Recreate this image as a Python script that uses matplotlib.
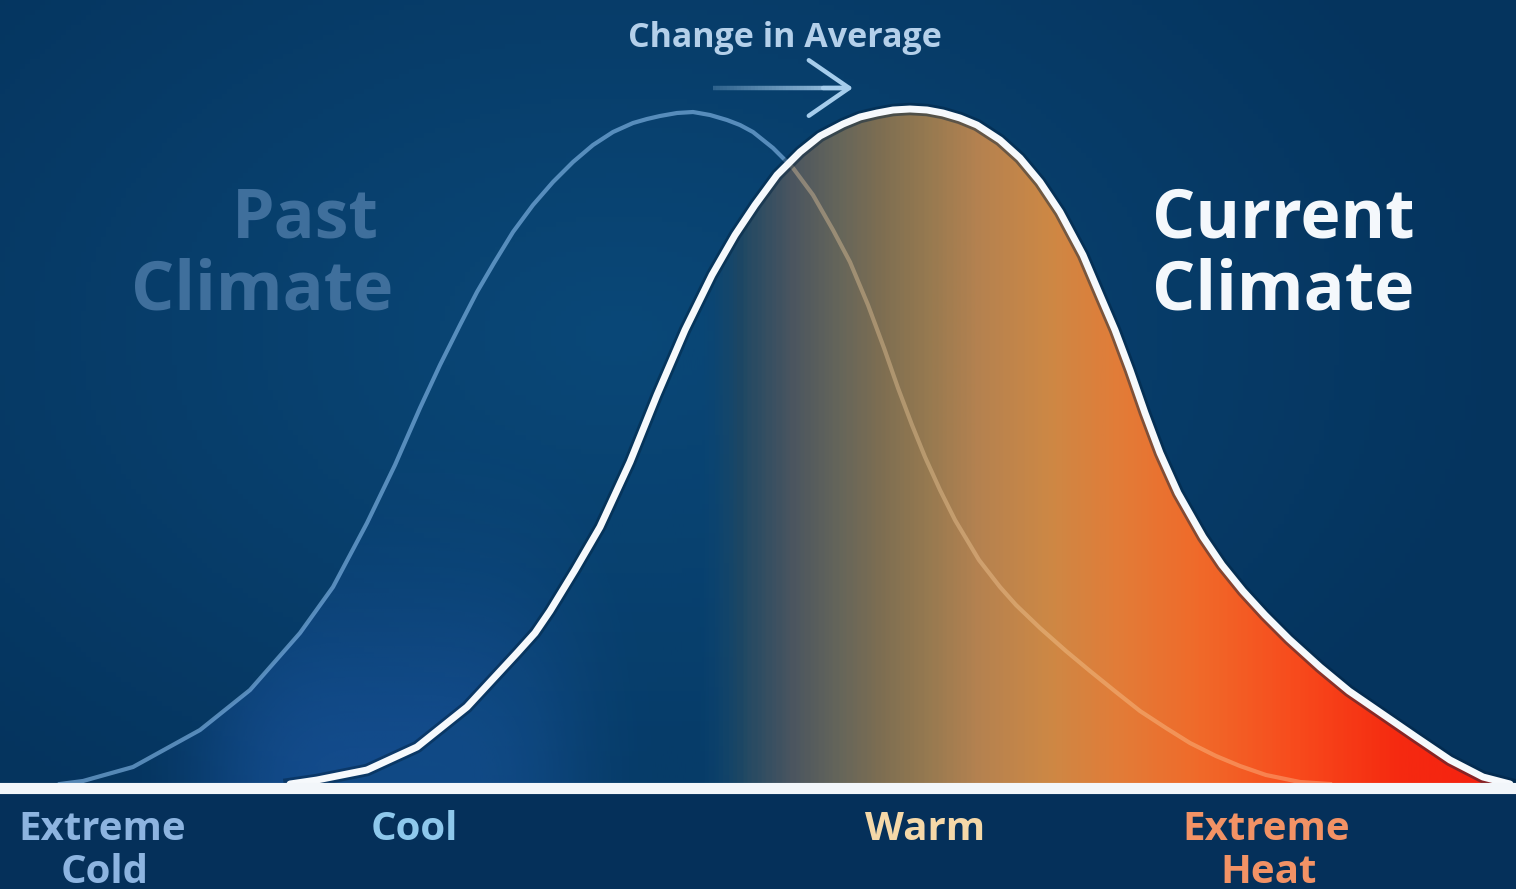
import numpy as np
import matplotlib.pyplot as plt
from matplotlib.colors import LinearSegmentedColormap, to_rgba
from matplotlib.collections import LineCollection
from matplotlib.patches import Polygon

# temperature position (left = cold, right = hot) and relative frequency
past_x = [60, 83, 133, 200, 250, 300, 333, 367, 395, 420, 440, 460, 477, 494, 513, 533, 553,
          573, 593, 613, 633, 647, 660, 677, 693, 710, 727, 740, 753, 773, 793, 813, 833,
          850, 868, 884, 898, 912, 925, 940, 955, 979, 1000, 1016, 1040, 1066, 1090, 1116,
          1140, 1166, 1190, 1216, 1240, 1266, 1300, 1330]
past_h = [1, 4, 18, 55, 95, 152, 198, 262, 320, 377, 420, 460, 493, 522, 553, 580, 603,
          623, 640, 653, 662, 666, 669, 672, 673, 670, 665, 660, 653, 637, 617, 590, 555,
          523, 480, 437, 397, 360, 328, 295, 265, 225, 198, 180, 157, 134, 114, 93,
          74, 57, 42, 29, 19, 10, 3, 1]

current_x = [290, 317, 367, 417, 467, 517, 535, 550, 575, 600, 630, 657, 685, 712, 735, 755,
             777, 800, 820, 843, 860, 877, 893, 910, 927, 943, 960, 977, 1000, 1020, 1040,
             1060, 1083, 1100, 1115, 1130, 1145, 1160, 1178, 1203, 1222, 1243, 1265, 1289,
             1320, 1349, 1416, 1450, 1483, 1510]
current_h = [1, 5, 15, 38, 78, 132, 152, 174, 215, 258, 323, 390, 455, 510, 550, 580,
             610, 633, 649, 661, 668, 672, 675, 676, 675, 672, 667, 660, 645, 627, 603,
             573, 530, 490, 455, 415, 372, 332, 292, 248, 220, 194, 170, 146,
             118, 94, 48, 25, 8, 1]

cat_top = ['Extreme', 'Cool', 'Warm', 'Extreme']
cat_bottom = ['Cold', '', '', 'Heat']
cat_x = [102, 414, 925, 1266]
cat_colors = ['#8db4e0', '#8ec8ec', '#f5d8a8', '#f29265']

# "Change in Average" arrow, from old mean towards new mean
arrow_start, arrow_end, arrow_h = 713, 853, 697

# gradient stops of the current-climate fill (position, colour, alpha)
warm_stops = [(290, '#0a4676', 0.25), (700, '#0a4676', 0.25), (740, '#1e4864', 1.0),
              (790, '#4a5560', 1.0), (840, '#66665a', 1.0), (880, '#7d6e52', 1.0),
              (930, '#977a50', 1.0), (980, '#b58250', 1.0), (1050, '#cd8845', 1.0),
              (1120, '#e27c38', 1.0), (1200, '#f06a2a', 1.0), (1300, '#f84a1c', 1.0),
              (1400, '#f52a10', 1.0), (1510, '#f52010', 1.0)]

W, H = 1516, 889
base = 785  # pixel row of the baseline

fig = plt.figure(figsize=(W / 100, H / 100), dpi=100)
ax = fig.add_axes([0, 0, 1, 1])
fig.patch.set_facecolor('#063a64')

# background: soft radial light behind the curves
gx, gy = np.meshgrid(np.linspace(0, W, 300), np.linspace(base - H, base, 180))
r = np.sqrt(((gx - 620) / 900) ** 2 + ((gy - 450) / 600) ** 2)
t = np.clip(r, 0, 1)[..., None]
c_in = np.array([10, 72, 120]) / 255
c_out = np.array([5, 52, 94]) / 255
bg = c_in * (1 - t) + c_out * t
ax.imshow(bg, extent=[0, W, base - H, base], origin='lower', aspect='auto', zorder=0)
ax.axhspan(base - H, 0, color='#05305a', zorder=0.5, lw=0)

# blue glow under the past curve
past_poly = Polygon(np.column_stack([past_x + [past_x[-1], past_x[0]],
                                     past_h + [0, 0]]), closed=True, fc='none', ec='none')
ax.add_patch(past_poly)
lx, ly = np.meshgrid(np.linspace(60, 800, 300), np.linspace(0, 500, 200))
glow = np.zeros(lx.shape + (4,))
glow[..., :3] = np.array([36, 100, 190]) / 255
glow[..., 3] = 0.45 * np.exp(-((lx - 390) / 190) ** 4) * np.exp(-(ly / 200) ** 2)
gim = ax.imshow(glow, extent=[60, 800, 0, 500], origin='lower', aspect='auto', zorder=1)
gim.set_clip_path(past_poly)

# past climate line (under the fill)
ax.plot(past_x, past_h, color='#8cc0f0', alpha=0.6, lw=3, solid_joinstyle='round', zorder=1.5)

# gradient fill under the current curve
cur_poly = Polygon(np.column_stack([current_x + [current_x[-1], current_x[0]],
                                    current_h + [0, 0]]), closed=True, fc='none', ec='none')
ax.add_patch(cur_poly)
x0, x1 = warm_stops[0][0], warm_stops[-1][0]
warm_cmap = LinearSegmentedColormap.from_list(
    'warm', [((p - x0) / (x1 - x0), to_rgba(c, a)) for p, c, a in warm_stops])
grad = np.linspace(0, 1, 600).reshape(1, -1)
fim = ax.imshow(grad, extent=[x0, x1, 0, 700], origin='lower', aspect='auto',
                cmap=warm_cmap, zorder=2)
fim.set_clip_path(cur_poly)

# past line seen through the warm fill
pl = ax.plot(past_x, past_h, color='#ffd9a8', alpha=0.35, lw=3,
             solid_joinstyle='round', zorder=3)[0]
pl.set_clip_path(cur_poly)

# current climate line
ax.plot(current_x, current_h, color='#02223f', alpha=0.45, lw=9,
        solid_joinstyle='round', zorder=3.5)
ax.plot(current_x, current_h, color='#f6f9fc', lw=5, solid_joinstyle='round',
        solid_capstyle='round', zorder=4)

# baseline
ax.axhline(-3, color='#f2f6fa', lw=8, zorder=5)

font = ['Open Sans', 'DejaVu Sans']

ax.text(305, base - 238, 'Past', ha='center', va='baseline', fontsize=49,
        fontweight='bold', family=font, color='#3f6f9c', zorder=6)
ax.text(262, base - 309, 'Climate', ha='center', va='baseline', fontsize=49,
        fontweight='bold', family=font, color='#3f6f9c', zorder=6)
ax.text(1152, base - 238, 'Current', ha='left', va='baseline', fontsize=49,
        fontweight='bold', family=font, color='#f4f8fc', zorder=6)
ax.text(1152, base - 309, 'Climate', ha='left', va='baseline', fontsize=49,
        fontweight='bold', family=font, color='#f4f8fc', zorder=6)

ax.text(785, base - 47, 'Change in Average', ha='center', va='baseline', fontsize=24.5,
        fontweight='bold', family=font, color='#b4d0ea', zorder=6)

# arrow: shaft fading in from the left, open head
sx = np.linspace(arrow_start, arrow_end - 4, 40)
segs = [[(a, arrow_h), (b, arrow_h)] for a, b in zip(sx[:-1], sx[1:])]
shaft_cols = [to_rgba('#a6cdec', 0.25 + 0.75 * k / len(segs)) for k in range(len(segs))]
ax.add_collection(LineCollection(segs, colors=shaft_cols, linewidths=3.2, zorder=6))
ax.annotate('', xy=(arrow_end, arrow_h), xytext=(arrow_end - 30, arrow_h),
            arrowprops=dict(arrowstyle='->,head_length=2.9,head_width=2.0',
                            color='#a6cdec', lw=3.2, mutation_scale=10,
                            shrinkA=0, shrinkB=0), zorder=6)

for top, bottom, x, c in zip(cat_top, cat_bottom, cat_x, cat_colors):
    ax.text(x, base - 840, top, ha='center', va='baseline', fontsize=29,
            fontweight='bold', family=font, color=c, zorder=6)
    if bottom:
        ax.text(x + 3, base - 883, bottom, ha='center', va='baseline', fontsize=29,
                fontweight='bold', family=font, color=c, zorder=6)

ax.set_xlim(0, W)
ax.set_ylim(base - H, base)
ax.axis('off')

fig.savefig('out.png', dpi=100, facecolor=fig.get_facecolor())
